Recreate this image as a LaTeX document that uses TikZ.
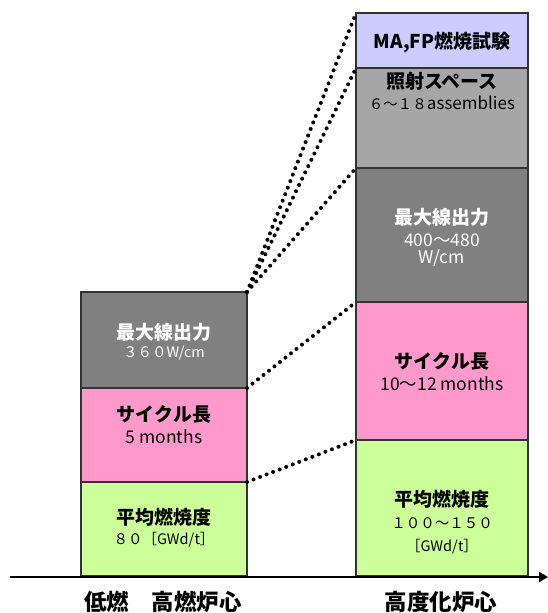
\documentclass[tikz,border=0pt]{standalone}
\usepackage{fontspec}
\setmainfont{Noto Sans CJK JP}
\usetikzlibrary{arrows.meta}
\definecolor{cgray}{HTML}{808080}
\definecolor{clight}{HTML}{A6A6A6}
\definecolor{cpink}{HTML}{FF99CC}
\definecolor{cgreen}{HTML}{CCFF99}
\definecolor{clav}{HTML}{CCCCFF}
\begin{document}
\begin{tikzpicture}[x=1pt,y=-1pt,
  blk/.style={draw=black!80, line width=1.2pt, inner sep=0pt, outer sep=0pt, anchor=north west},
  lbl/.style={align=center, inner sep=0pt, font=\fontsize{19}{22}\selectfont\bfseries},
  val/.style={align=center, inner sep=0pt, font=\fontsize{17.5}{20}\selectfont},
  fw/.style={align=center, inner sep=0pt, font=\fontsize{14.5}{18}\selectfont},
  axlbl/.style={inner sep=0pt, font=\fontsize{22.5}{26}\selectfont\bfseries},
  dotline/.style={line width=4pt, line cap=round, dash pattern=on 0pt off 7pt},
]
\useasboundingbox (0,0) rectangle (548,613);
% left column
\node[blk, fill=cgray, minimum width=166pt, minimum height=96pt] (lmax) at (81,292) {};
\node[blk, fill=cpink, minimum width=166pt, minimum height=94pt] (lcyc) at (81,388) {};
\node[blk, fill=cgreen, minimum width=166pt, minimum height=94pt] (lbu) at (81,482) {};
% right column
\node[blk, fill=clav, minimum width=172pt, minimum height=55pt] (rma) at (356,13) {};
\node[blk, fill=clight, minimum width=172pt, minimum height=100pt] (rirr) at (356,68) {};
\node[blk, fill=cgray, minimum width=172pt, minimum height=134pt] (rmax) at (356,168) {};
\node[blk, fill=cpink, minimum width=172pt, minimum height=138pt] (rcyc) at (356,302) {};
\node[blk, fill=cgreen, minimum width=172pt, minimum height=136pt] (rbu) at (356,440) {};
% left texts
\node[lbl, text=white] (t1) at (164,332) {最大線出力};
\node[fw, text=white] (t2) at (164,353) {３６０W/cm};
\node[lbl] (t3) at (164,414) {サイクル長};
\node[val] (t4) at (164,437) {5 months};
\node[lbl] (t5) at (164,517) {平均燃焼度};
\node[fw] (t6) at (164,540) {８０［GWd/t］};
% right texts
\node[lbl] (r1) at (442,42) {MA,FP燃焼試験};
\node[lbl] (r2) at (442,81) {照射スペース};
\node[fw] (r3) at (442,103) {６～１８{\fontsize{17}{20}\selectfont assemblies}};
\node[lbl, text=white] (r4) at (442,217) {最大線出力};
\node[val, text=white] (r5) at (442,240) {400～480};
\node[val, text=white] (r6) at (442,258) {W/cm};
\node[lbl] (r7) at (442,361) {サイクル長};
\node[val] (r8) at (442,384) {10～12 months};
\node[lbl] (r9) at (442,499) {平均燃焼度};
\node[fw] (r10) at (442,523) {１００～１５０};
\node[fw] (r11) at (442,547) {［GWd/t］};
% dotted connectors
\draw[dotline] (lmax.north east) -- (rma.north west);
\draw[dotline] (lmax.north east) -- (rirr.north west);
\draw[dotline] (lmax.north east) -- (rmax.north west);
\draw[dotline] (lcyc.north east) -- (rcyc.north west);
\draw[dotline] (lbu.north east) -- (rbu.north west);
% axis
\coordinate (ax0) at (10,577);
\coordinate (ax1) at (548,577);
\draw[line width=2.5pt, -{Triangle[length=9pt,width=10pt]}] (ax0) -- (ax1);
\node[axlbl] (b1) at (163,602) {低燃　高燃炉心};
\node[axlbl] (b2) at (441,602) {高度化炉心};
\end{tikzpicture}
\end{document}
